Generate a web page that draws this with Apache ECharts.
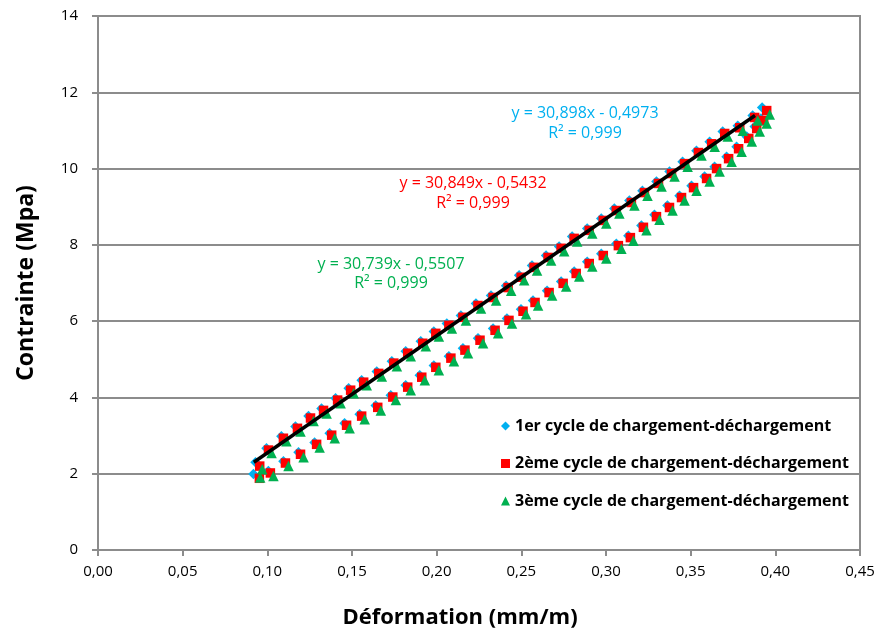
<!DOCTYPE html>
<html>
<head>
<meta charset="utf-8">
<script src="https://cdn.jsdelivr.net/npm/echarts@6/dist/echarts.min.js"></script>
<style>
html,body{margin:0;padding:0;background:#fff;}
#chart{width:879px;height:638px;}
</style>
</head>
<body>
<div id="chart"></div>
<script>
// ---- Data ----
const seriesNames = [
  '1er cycle de chargement-déchargement',
  '2ème cycle de chargement-déchargement',
  '3ème cycle de chargement-déchargement'
];
const xTickLabels = ['0,00','0,05','0,10','0,15','0,20','0,25','0,30','0,35','0,40','0,45'];
const yTickLabels = ['0','2','4','6','8','10','12','14'];

// Cycle 1 (blue)
const strain1 = [
  0.0918,0.1006,0.1095,0.1184,0.1279,0.1368,0.1456,0.1545,0.1640,0.1729,0.1817,0.1900,0.1983,0.2072,0.2155,0.2244,0.2333,0.2415,0.2498,0.2569,0.2652,0.2735,0.2812,0.2889,0.2972,0.3061,0.3132,0.3209,0.3286,0.3363,0.3434,0.3505,0.3582,0.3641,0.3712,0.3771,0.3831,0.3878,0.3915,0.3922,
  0.3866,0.3778,0.3689,0.3612,0.3534,0.3452,0.3375,0.3298,0.3215,0.3138,0.3049,0.2972,0.2889,0.2800,0.2723,0.2646,0.2563,0.2487,0.2410,0.2321,0.2232,0.2143,0.2060,0.1983,0.1906,0.1817,0.1735,0.1646,0.1557,0.1480,0.1403,0.1320,0.1243,0.1166,0.1083,0.0995,0.0930
];
const stress1 = [
  1.99,2.07,2.33,2.56,2.82,3.06,3.32,3.56,3.79,4.06,4.32,4.58,4.84,5.08,5.29,5.55,5.81,6.07,6.31,6.54,6.80,7.04,7.30,7.56,7.77,8.03,8.24,8.51,8.79,9.03,9.29,9.55,9.79,10.05,10.31,10.57,10.84,11.10,11.31,11.60,
  11.39,11.12,10.97,10.70,10.47,10.18,9.92,9.66,9.42,9.16,8.95,8.69,8.43,8.22,7.96,7.72,7.46,7.20,6.93,6.67,6.46,6.15,5.94,5.73,5.47,5.21,4.95,4.68,4.45,4.24,3.98,3.71,3.51,3.24,2.98,2.67,2.30
];

// Cycle 2 (red)
const strain2 = [
  0.0953,0.1018,0.1107,0.1196,0.1291,0.1380,0.1468,0.1557,0.1652,0.1741,0.1829,0.1912,0.1995,0.2084,0.2167,0.2256,0.2345,0.2427,0.2510,0.2581,0.2664,0.2747,0.2824,0.2901,0.2984,0.3073,0.3144,0.3221,0.3298,0.3375,0.3446,0.3517,0.3594,0.3653,0.3724,0.3783,0.3843,0.3890,0.3931,0.3949,
  0.3878,0.3790,0.3701,0.3624,0.3546,0.3464,0.3387,0.3310,0.3227,0.3150,0.3061,0.2984,0.2901,0.2812,0.2735,0.2658,0.2575,0.2499,0.2422,0.2333,0.2244,0.2155,0.2072,0.1995,0.1918,0.1829,0.1747,0.1658,0.1569,0.1492,0.1415,0.1332,0.1255,0.1178,0.1095,0.1007,0.0955
];
const stress2 = [
  1.88,2.02,2.28,2.51,2.77,3.01,3.27,3.51,3.74,4.01,4.27,4.53,4.79,5.03,5.24,5.50,5.76,6.02,6.26,6.49,6.75,6.99,7.25,7.51,7.72,7.98,8.19,8.46,8.74,8.98,9.24,9.50,9.74,10.00,10.26,10.52,10.79,11.05,11.26,11.52,
  11.34,11.07,10.92,10.65,10.42,10.13,9.87,9.61,9.37,9.11,8.90,8.64,8.38,8.17,7.91,7.67,7.41,7.15,6.88,6.62,6.41,6.10,5.89,5.68,5.42,5.16,4.90,4.63,4.40,4.19,3.93,3.66,3.46,3.19,2.93,2.62,2.20
];

// Cycle 3 (green)
const strain3 = [
  0.0958,0.1036,0.1125,0.1214,0.1309,0.1398,0.1486,0.1575,0.1670,0.1759,0.1847,0.1930,0.2013,0.2102,0.2185,0.2274,0.2363,0.2445,0.2528,0.2599,0.2682,0.2765,0.2842,0.2919,0.3002,0.3091,0.3162,0.3239,0.3316,0.3393,0.3464,0.3535,0.3612,0.3671,0.3742,0.3801,0.3861,0.3908,0.3949,0.3967,
  0.3896,0.3808,0.3719,0.3642,0.3564,0.3482,0.3405,0.3328,0.3245,0.3168,0.3079,0.3002,0.2919,0.2830,0.2753,0.2676,0.2593,0.2517,0.2440,0.2351,0.2262,0.2173,0.2090,0.2013,0.1936,0.1847,0.1765,0.1676,0.1587,0.1510,0.1433,0.1350,0.1273,0.1196,0.1113,0.1025,0.0970
];
const stress3 = [
  1.90,1.94,2.20,2.43,2.69,2.93,3.19,3.43,3.66,3.93,4.19,4.45,4.71,4.95,5.16,5.42,5.68,5.94,6.18,6.41,6.67,6.91,7.17,7.43,7.64,7.90,8.11,8.38,8.66,8.90,9.16,9.42,9.66,9.92,10.18,10.44,10.71,10.97,11.18,11.42,
  11.26,10.99,10.84,10.57,10.34,10.05,9.79,9.53,9.29,9.03,8.82,8.56,8.30,8.09,7.83,7.59,7.33,7.07,6.80,6.54,6.33,6.02,5.81,5.60,5.34,5.08,4.82,4.55,4.32,4.11,3.85,3.58,3.38,3.11,2.85,2.54,2.12
];

// Linear trend line (black), endpoints
const trendStrain = [0.092, 0.388];
const trendStress = [2.30, 11.39];

// Trend equations shown on the chart
const equations = [
  {eq: 'y = 30,898x - 0,4973', r2: 'R² = 0,999'},
  {eq: 'y = 30,849x - 0,5432', r2: 'R² = 0,999'},
  {eq: 'y = 30,739x - 0,5507', r2: 'R² = 0,999'}
];

// ---- Styles ----
const colors = ['#00B0F0', '#FF0000', '#00B050'];
const symbols = ['diamond', 'rect', 'triangle'];
const symbolSizes = [10.5, 9.5, 10.5];
const FONT = 'Open Sans';
const axisGray = '#8C8C8C';

function zip(xs, ys) { return xs.map((x, i) => [x, ys[i]]); }
const allX = [strain1, strain2, strain3];
const allY = [stress1, stress2, stress3];

const chart = echarts.init(document.getElementById('chart'), null, {renderer: 'canvas'});

const scatterSeries = seriesNames.map((name, i) => ({
  name: name,
  type: 'scatter',
  data: zip(allX[i], allY[i]),
  symbol: symbols[i],
  symbolSize: symbolSizes[i],
  itemStyle: {color: colors[i], opacity: 1},
  z: 2 + i,
  silent: true
}));

const eqPos = [[585, 113, 133], [473, 183, 203], [391, 264, 283]];
const graphics = [];
equations.forEach((e, i) => {
  graphics.push({type: 'text', x: eqPos[i][0], y: eqPos[i][1],
    style: {text: e.eq, fill: colors[i], font: '16px "' + FONT + '"', textAlign: 'center', textVerticalAlign: 'middle'}, z: 100});
  graphics.push({type: 'text', x: eqPos[i][0], y: eqPos[i][2],
    style: {text: e.r2, fill: colors[i], font: '16px "' + FONT + '"', textAlign: 'center', textVerticalAlign: 'middle'}, z: 100});
});

chart.setOption({
  animation: false,
  backgroundColor: '#ffffff',
  grid: {left: 98, right: 19, top: 16, bottom: 88, show: true, borderColor: axisGray, borderWidth: 2, backgroundColor: 'transparent'},
  xAxis: {
    type: 'value', min: 0, max: 0.45, interval: 0.05,
    name: 'Déformation (mm/m)', nameLocation: 'middle', nameGap: 57,
    nameTextStyle: {fontFamily: FONT, fontWeight: 'bold', fontSize: 22, color: '#000', padding: [0, 38, 0, 0]},
    axisLine: {show: true, onZero: false, lineStyle: {color: axisGray, width: 2}},
    axisTick: {show: true, inside: false, length: 6, lineStyle: {color: axisGray, width: 2}},
    axisLabel: {fontFamily: FONT, fontSize: 15, color: '#000', margin: 14,
      formatter: (v) => { const k = Math.round(v / 0.05); return xTickLabels[k] !== undefined ? xTickLabels[k] : ''; }},
    splitLine: {show: false}
  },
  yAxis: {
    type: 'value', min: 0, max: 14, interval: 2,
    name: 'Contrainte (Mpa)', nameLocation: 'middle', nameGap: 60, nameRotate: 90,
    nameTextStyle: {fontFamily: FONT, fontWeight: 'bold', fontSize: 23, color: '#000'},
    axisLine: {show: true, onZero: false, lineStyle: {color: axisGray, width: 2}},
    axisTick: {show: true, inside: false, length: 6, lineStyle: {color: axisGray, width: 2}},
    axisLabel: {fontFamily: FONT, fontSize: 15, color: '#000', margin: 20,
      formatter: (v) => { const k = Math.round(v / 2); return yTickLabels[k] !== undefined ? yTickLabels[k] : ''; }},
    splitLine: {show: true, lineStyle: {color: axisGray, width: 2}}
  },
  legend: {
    data: seriesNames.map((n, i) => ({name: n, icon: symbols[i]})),
    orient: 'vertical', left: 496, top: 411,
    itemWidth: 9, itemHeight: 9, itemGap: 17.5,
    textStyle: {fontFamily: FONT, fontWeight: 'bold', fontSize: 16, color: '#000', lineHeight: 20},
    selectedMode: false
  },
  graphic: graphics,
  series: scatterSeries.concat([{
    name: 'trend', type: 'line',
    data: zip(trendStrain, trendStress),
    symbol: 'none', showSymbol: false,
    lineStyle: {color: '#000', width: 3.5},
    z: 10, silent: true
  }])
});
</script>
</body>
</html>
